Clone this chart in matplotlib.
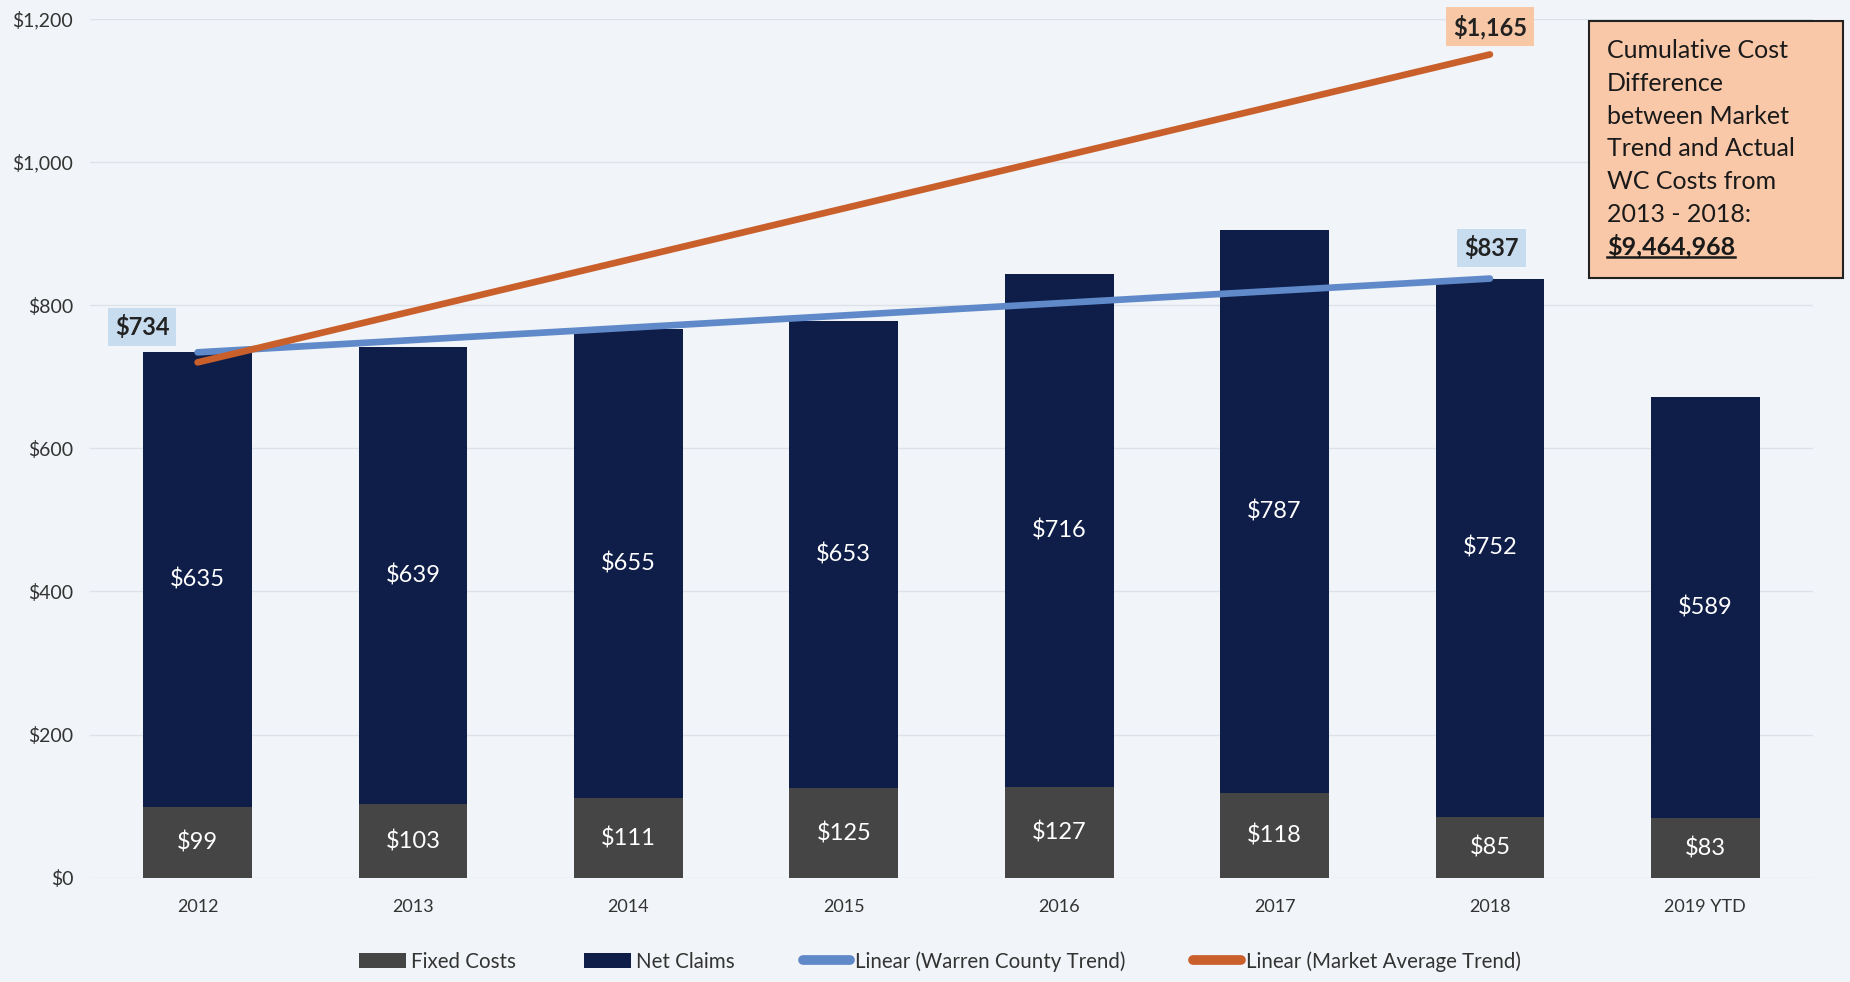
import matplotlib.pyplot as plt
from matplotlib.lines import Line2D
from matplotlib.patches import Rectangle
import numpy as np

plt.rcParams['font.family'] = ['Lato', 'DejaVu Sans']

years = ['2012', '2013', '2014', '2015', '2016', '2017', '2018', '2019 YTD']
fixed_costs = [99, 103, 111, 125, 127, 118, 85, 83]
net_claims = [635, 639, 655, 653, 716, 787, 752, 589]

# trend lines run 2012 -> 2018
trend_x = [0, 6]
warren_trend = [734, 837]
market_trend = [720, 1150]
warren_labels = ['$734', '$837']
market_label = '$1,165'

box_lines = ['Cumulative Cost', 'Difference', 'between Market', 'Trend and Actual',
             'WC Costs from', '2013 - 2018:']
box_total = '$9,464,968'

bg = '#f1f4f8'
navy = '#0f1e48'
grey = '#454545'
blue = '#5f89c8'
orange = '#c9602c'

fig = plt.figure(figsize=(18.5, 9.82), dpi=100, facecolor=bg)
ax = fig.add_axes([0.0486, 0.106, 0.9314, 0.875])
ax.set_facecolor(bg)

x = np.arange(len(years))
w = 0.505
b1 = ax.bar(x, fixed_costs, width=w, color=grey, label='Fixed Costs', zorder=2)
b2 = ax.bar(x, net_claims, width=w, bottom=fixed_costs, color=navy, label='Net Claims', zorder=2)

for i in range(len(years)):
    ax.text(x[i], fixed_costs[i] / 2, f'${fixed_costs[i]:,}', color='white',
            ha='center', va='center', fontsize=17, zorder=3)
    ax.text(x[i], fixed_costs[i] + net_claims[i] / 2, f'${net_claims[i]:,}', color='white',
            ha='center', va='center', fontsize=17, zorder=3)

l1, = ax.plot(trend_x, warren_trend, color=blue, lw=4.8, solid_capstyle='round', zorder=4,
              label='Linear (Warren County Trend)')
l2, = ax.plot(trend_x, market_trend, color=orange, lw=4.8, solid_capstyle='round', zorder=5,
              label='Linear (Market Average Trend)')

ax.annotate(warren_labels[0], (trend_x[0], warren_trend[0]), xytext=(-40, 18),
            textcoords='offset points', ha='center', va='center', fontsize=17,
            fontweight='bold', color='#222222',
            bbox=dict(boxstyle='square,pad=0.3', fc='#c8dcf0', ec='none'), zorder=6)
ax.annotate(warren_labels[1], (trend_x[1], warren_trend[1]), xytext=(1, 22),
            textcoords='offset points', ha='center', va='center', fontsize=17,
            fontweight='bold', color='#222222',
            bbox=dict(boxstyle='square,pad=0.3', fc='#c8dcf0', ec='none'), zorder=6)
ax.annotate(market_label, (trend_x[1], market_trend[1]), xytext=(0, 20),
            textcoords='offset points', ha='center', va='center', fontsize=17,
            fontweight='bold', color='#222222',
            bbox=dict(boxstyle='square,pad=0.3', fc='#f8c7a6', ec='none'), zorder=6)

ax.set_xlim(-0.5, 7.5)
ax.set_ylim(0, 1200)
ax.set_yticks(range(0, 1201, 200))
ax.set_yticklabels([f'${v:,}' for v in range(0, 1201, 200)])
ax.set_xticks(x)
ax.set_xticklabels(years)
ax.tick_params(axis='y', length=0, pad=12, labelsize=14, labelcolor='#333333')
ax.tick_params(axis='x', length=0, pad=15, labelsize=13, labelcolor='#333333')
ax.grid(axis='y', color='#dde2e8', lw=1, zorder=0)
for s in ax.spines.values():
    s.set_visible(False)

leg_lines = [Line2D([0], [0], color=blue, lw=7, solid_capstyle='round'),
             Line2D([0], [0], color=orange, lw=7, solid_capstyle='round')]
fig.legend([b1, b2] + leg_lines,
           ['Fixed Costs', 'Net Claims', l1.get_label(), l2.get_label()],
           loc='center', bbox_to_anchor=(0.508, 0.021), ncol=4, frameon=False,
           fontsize=14.8, handlelength=2.3, handleheight=0.7, handletextpad=0.25,
           columnspacing=3.3, labelcolor='#333333')

# text box on the right
fig.patches.append(Rectangle((0.859, 0.717), 0.137, 0.262, transform=fig.transFigure,
                             fc='#f9c8a8', ec='#222222', lw=1.5, zorder=1))
y0 = 1 - 51 / 982
step = 32.6 / 982
for k, line in enumerate(box_lines):
    fig.text(0.8685, y0 - k * step, line, fontsize=18, color='#1a1a1a', va='center', ha='left')
tot = fig.text(0.8685, y0 - 6 * step, box_total, fontsize=18, fontweight='bold',
               color='#1a1a1a', va='center', ha='left')

fig.canvas.draw()
bb = tot.get_window_extent().transformed(fig.transFigure.inverted())
uy = bb.y0 + 0.002
fig.lines.append(Line2D([bb.x0, bb.x1], [uy, uy], transform=fig.transFigure,
                        color='#1a1a1a', lw=1.8))

fig.savefig('out.png', dpi=100, facecolor=bg)
